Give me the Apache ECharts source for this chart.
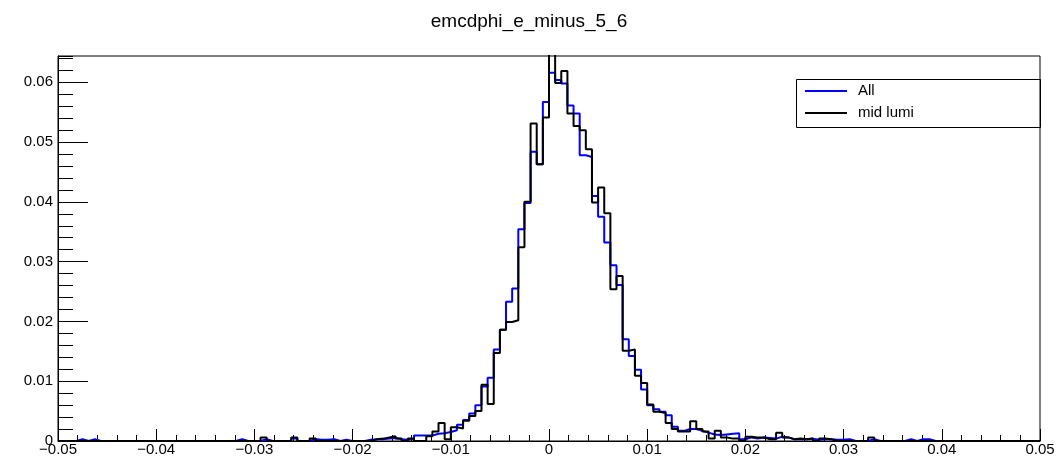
<!DOCTYPE html>
<html><head><meta charset="utf-8">
<script src="https://cdn.jsdelivr.net/npm/echarts@6/dist/echarts.min.js"></script>
<style>html,body{margin:0;padding:0;background:#fff}#c{width:1058px;height:460px}</style>
</head><body><div id="c"></div>
<script>
const chartTitle = 'emcdphi_e_minus_5_6';
const seriesNames = ['All', 'mid lumi'];
const xMin = -0.05, xMax = 0.05;
const yMax = 0.0644;
const xTickValues = [-0.05, -0.04, -0.03, -0.02, -0.01, 0, 0.01, 0.02, 0.03, 0.04, 0.05];
const yTickValues = [0, 0.01, 0.02, 0.03, 0.04, 0.05, 0.06];

// 160 bins, -0.05 .. 0.05 (bin width 0.000625)
const allValues = [
  0,0,0,0.0003,0,0.0003,0,0,0,0,
  0,0,0,0,0,0,0,0,0,0,
  0,0,0,0,0,0,0,0,0,0.0003,
  0,0,0,0.0003,0,0,0,0,0.0004,0,
  0,0.0003,0.0002,0.0002,0.0003,0,0.0002,0,0,0,
  0.0002,0.0003,0.0003,0.0004,0.0005,0.0003,0.0002,0.0004,0.0009,0.0009,
  0.0009,0.0012,0.0013,0.0015,0.0018,0.0027,0.0035,0.0046,0.0060,0.0091,
  0.0106,0.0153,0.0186,0.0233,0.0255,0.0354,0.0398,0.0484,0.0463,0.0567,
  0.0616,0.0604,0.0598,0.0561,0.0548,0.0478,0.0475,0.0410,0.0375,0.0332,
  0.0294,0.0261,0.0170,0.0142,0.0119,0.0086,0.0060,0.0053,0.0049,0.0043,
  0.0024,0.0017,0.0020,0.0020,0.0017,0.0014,0.0011,0.0010,0.0011,0.0012,
  0.0013,0.0003,0.0006,0.0004,0.0006,0.0005,0.0004,0.0007,0.0006,0.0003,
  0.0003,0.0003,0.0004,0.0002,0.0003,0.0003,0.0002,0.0002,0.0003,0,
  0,0,0.0003,0,0,0,0,0,0.0003,0,
  0.0003,0.0003,0,0,0,0,0,0,0,0,
  0,0,0,0,0,0,0,0,0,0
];
const midLumiValues = [
  0,0,0,0,0,0,0,0,0,0,
  0,0,0,0,0,0,0,0,0,0,
  0,0,0,0,0,0,0,0,0,0,
  0,0,0,0.0006,0,0,0,0,0.0006,0,
  0,0.0004,0,0,0,0,0,0,0,0,
  0,0.0003,0.0004,0.0006,0.0008,0.0004,0,0.0004,0,0,
  0.0008,0.0016,0.0030,0.0003,0.0023,0.0021,0.0034,0.0042,0.0050,0.0094,
  0.0062,0.0147,0.0186,0.0199,0.0202,0.0324,0.0400,0.0531,0.0463,0.0541,
  0.0665,0.0599,0.0619,0.0548,0.0527,0.0520,0.0488,0.0399,0.0424,0.0381,
  0.0254,0.0276,0.0151,0.0153,0.0109,0.0097,0.0061,0.0049,0.0047,0.0030,
  0.0020,0.0016,0.0016,0.0033,0.0020,0.0016,0.0004,0.0017,0.0006,0.0004,
  0.0004,0,0.0007,0.0006,0.0006,0.0003,0.0003,0.0014,0.0006,0.0003,
  0.0004,0.0003,0.0004,0,0.0004,0.0003,0,0,0,0,
  0,0,0.0006,0,0,0,0,0,0,0,
  0,0,0,0,0,0,0,0,0,0,
  0,0,0,0,0,0,0,0,0,0
];

function histPoints(vals) {
  const w = (xMax - xMin) / vals.length;
  const pts = vals.map((v, i) => [xMin + i * w, v]);
  pts.push([xMax, vals[vals.length - 1]]);
  return pts;
}
function fmt(v) {
  if (Math.abs(v) < 1e-9) return '0';
  return (v < 0 ? '\u2212' : '') + Math.abs(v).toFixed(2);
}
const FONT = 'Liberation Sans, Arial, Helvetica, sans-serif';

const chart = echarts.init(document.getElementById('c'), null, {renderer: 'canvas'});
chart.setOption({
  animation: false,
  backgroundColor: '#fff',
  title: {
    text: chartTitle, left: 'center', top: 7,
    textStyle: {fontFamily: FONT, fontSize: 19, fontWeight: 'normal', color: '#000'}
  },
  grid: {left: 58, right: 18, top: 56, bottom: 19, show: true, borderColor: '#000', borderWidth: 1, backgroundColor: 'transparent'},
  legend: {
    data: seriesNames.map(n => ({name: n, icon: 'rect'})), orient: 'vertical', left: 800, top: 78,
    itemWidth: 42, itemHeight: 2, itemGap: 6,
    textStyle: {fontFamily: FONT, fontSize: 15, color: '#000', lineHeight: 16, padding: [0, 0, 0, 6]}
  },
  graphic: [{
    type: 'rect', shape: {x: 796.5, y: 79.5, width: 244, height: 48},
    style: {fill: 'none', stroke: '#000', lineWidth: 1}, z: 10
  }],
  xAxis: {
    type: 'value', min: xMin, max: xMax, interval: 0.01,
    axisLine: {show: true, onZero: false, lineStyle: {color: '#000', width: 1}},
    axisTick: {show: true, inside: true, length: 12, lineStyle: {color: '#000', width: 1}},
    minorTick: {show: true, splitNumber: 5, length: 6, lineStyle: {color: '#000', width: 1}},
    axisLabel: {
      margin: 1, fontFamily: FONT, fontSize: 15, color: '#000',
      formatter: v => xTickValues.some(t => Math.abs(t - v) < 1e-9) ? fmt(v) : ''
    },
    splitLine: {show: false}
  },
  yAxis: [{
    type: 'value', min: 0, max: yMax, interval: 0.01, position: 'left',
    axisLine: {show: true, onZero: false, lineStyle: {color: '#000', width: 1}},
    axisTick: {show: true, inside: true, length: 30, lineStyle: {color: '#000', width: 1}},
    axisLabel: {
      margin: 5, fontFamily: FONT, fontSize: 15, color: '#000', showMaxLabel: false,
      formatter: v => yTickValues.some(t => Math.abs(t - v) < 1e-9) ? fmt(v) : ''
    },
    splitLine: {show: false}
  }, {
    type: 'value', min: 0, max: yMax, interval: 0.002, position: 'left', offset: 0,
    axisLine: {show: false, onZero: false},
    axisTick: {show: true, inside: true, length: 15, lineStyle: {color: '#000', width: 1}},
    axisLabel: {show: false},
    splitLine: {show: false}
  }],
  series: [{
    name: seriesNames[0], type: 'line', step: 'end', symbol: 'none', clip: true,
    data: histPoints(allValues), yAxisIndex: 0,
    lineStyle: {color: '#0000ff', width: 2}, itemStyle: {color: '#0000ff'}, z: 2
  }, {
    name: seriesNames[1], type: 'line', step: 'end', symbol: 'none', clip: true,
    data: histPoints(midLumiValues), yAxisIndex: 0,
    lineStyle: {color: '#000000', width: 2}, itemStyle: {color: '#000000'}, z: 3
  }]
});
</script></body></html>
